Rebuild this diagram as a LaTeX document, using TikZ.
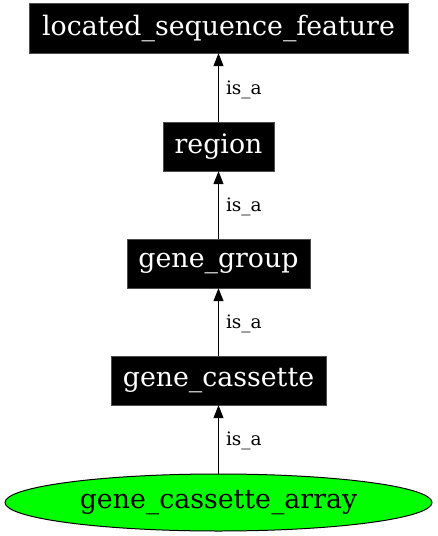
\documentclass[tikz,border=0pt]{standalone}
\usepackage{fontspec}
\setmainfont{DejaVu Serif}
\usetikzlibrary{arrows.meta,shapes.geometric}
\begin{document}
\begin{tikzpicture}[x=1pt,y=-1pt,
  termbox/.style={rectangle,fill=black,draw=black!70,line width=0.4pt,text=white,inner sep=0pt,minimum height=49pt,font=\fontsize{26.8}{30}\selectfont},
  leaf/.style={ellipse,fill=green,draw=black,line width=1pt,inner sep=0pt,minimum width=427pt,minimum height=57pt,font=\fontsize{26.8}{30}\selectfont},
  isa/.style={draw=black,line width=1pt,-{Triangle[length=13pt,width=10pt]}},
  elabel/.style={anchor=west,inner sep=0pt,xshift=7pt,yshift=-2pt,font=\fontsize{18.5}{21}\selectfont}]
\useasboundingbox (0,0) rectangle (437,536);
\node[termbox,minimum width=379pt,minimum height=50pt] (lsf) at (218.5,28) {located\_sequence\_feature};
\node[termbox,minimum width=111pt] (reg) at (218.5,146.5) {region};
\node[termbox,minimum width=183pt] (gg) at (218.5,263.5) {gene\_group};
\node[termbox,minimum width=215pt] (gc) at (218.5,380.5) {gene\_cassette};
\node[leaf] (gca) at (218.5,502.5) {gene\_cassette\_array};
\draw[isa] (reg) -- node[elabel] {is\_a} (lsf);
\draw[isa] (gg) -- node[elabel] {is\_a} (reg);
\draw[isa] (gc) -- node[elabel] {is\_a} (gg);
\draw[isa] (gca) -- node[elabel] {is\_a} (gc);
\end{tikzpicture}
\end{document}
